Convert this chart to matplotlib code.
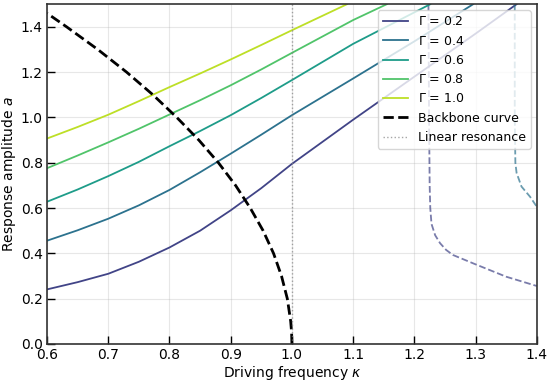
import numpy as np
import matplotlib
matplotlib.use("Agg")
import matplotlib.pyplot as plt
from matplotlib.ticker import FormatStrFormatter

# forcing levels
gammas = [0.2, 0.4, 0.6, 0.8, 1.0]

# stable branches
stable_k = {
    0.2: [0.6, 0.65, 0.7, 0.75, 0.8, 0.85, 0.9, 0.95, 1.0, 1.1, 1.2, 1.3, 1.367],
    0.4: [0.6, 0.65, 0.7, 0.75, 0.8, 0.85, 0.9, 0.95, 1.0, 1.1, 1.2, 1.296],
    0.6: [0.6, 0.65, 0.7, 0.75, 0.8, 0.85, 0.9, 0.95, 1.0, 1.1, 1.226],
    0.8: [0.6, 0.65, 0.7, 0.75, 0.8, 0.85, 0.9, 0.95, 1.0, 1.1, 1.155],
    1.0: [0.6, 0.65, 0.7, 0.75, 0.8, 0.85, 0.9, 0.95, 1.0, 1.09],
}
stable_a = {
    0.2: [0.241, 0.273, 0.31, 0.363, 0.426, 0.50, 0.59, 0.688, 0.795, 0.99, 1.18, 1.37, 1.5],
    0.4: [0.456, 0.502, 0.553, 0.612, 0.68, 0.758, 0.84, 0.924, 1.01, 1.172, 1.336, 1.5],
    0.6: [0.628, 0.682, 0.741, 0.804, 0.873, 0.94, 1.01, 1.086, 1.165, 1.325, 1.5],
    0.8: [0.776, 0.832, 0.89, 0.95, 1.013, 1.076, 1.142, 1.212, 1.285, 1.43, 1.5],
    1.0: [0.907, 0.958, 1.012, 1.072, 1.134, 1.194, 1.256, 1.32, 1.385, 1.5],
}

# unstable branches
unstable_k = {
    0.2: [1.223, 1.224, 1.225, 1.226, 1.228, 1.234, 1.242, 1.252, 1.263, 1.296, 1.35, 1.4],
    0.4: [1.364, 1.364, 1.365, 1.367, 1.375, 1.389, 1.4],
}
unstable_a = {
    0.2: [1.5, 1.0, 0.7, 0.6, 0.53, 0.48, 0.445, 0.415, 0.393, 0.356, 0.297, 0.256],
    0.4: [1.5, 1.0, 0.8, 0.755, 0.695, 0.65, 0.606],
}

# backbone curve
backbone_a = [0.0, 0.05, 0.1, 0.2, 0.3, 0.4, 0.5, 0.6, 0.7, 0.8, 0.9, 1.0,
              1.1, 1.2, 1.3, 1.4, 1.46]
backbone_k = [1.0, 0.9995, 0.998, 0.9925, 0.983, 0.97, 0.953, 0.932, 0.908,
              0.88, 0.848, 0.812, 0.773, 0.73, 0.683, 0.632, 0.6]

colors = plt.cm.viridis(np.linspace(0.2, 0.9, len(gammas)))

fig = plt.figure(figsize=(5.5, 3.82), dpi=100)
ax = fig.add_axes([0.0855, 0.0995, 0.8905, 0.8895])

for g, c in zip(gammas, colors):
    ax.plot(stable_k[g], stable_a[g], color=c, lw=1.3, label=f"$\\Gamma$ = {g:.1f}")
    if g in unstable_k:
        ax.plot(unstable_k[g], unstable_a[g], color=c, lw=1.3, ls="--", alpha=0.7)

ax.plot(backbone_k, backbone_a, "k--", lw=2, label="Backbone curve")
ax.axvline(1.0, color="gray", ls=":", lw=1, alpha=0.7, label="Linear resonance")

ax.set_xlim(0.6, 1.4)
ax.set_ylim(0, 1.5)
ax.yaxis.set_major_formatter(FormatStrFormatter("%.1f"))
ax.set_xlabel("Driving frequency $\\kappa$", fontsize=10, labelpad=1)
ax.set_ylabel("Response amplitude $a$", fontsize=10, labelpad=2)
ax.tick_params(direction="in", length=6, width=1, labelsize=10, pad=3)
ax.grid(True, alpha=0.3)
for s in ax.spines.values():
    s.set_color("#333333")
    s.set_linewidth(1.2)
ax.legend(loc="upper right", fontsize=9)

fig.savefig("out.png", dpi=100)
